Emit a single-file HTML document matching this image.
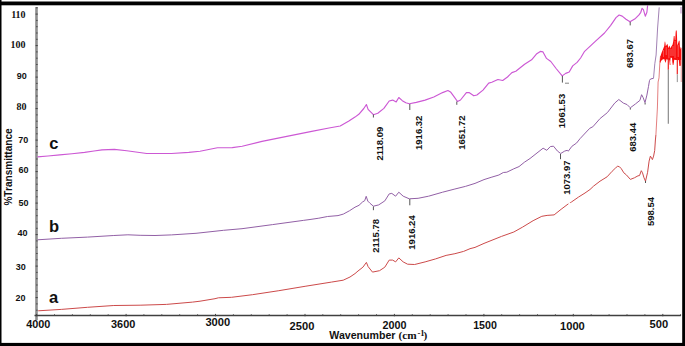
<!DOCTYPE html>
<html><head><meta charset="utf-8"><style>
html,body{margin:0;padding:0;background:#fff;}
body{width:685px;height:346px;overflow:hidden;}
svg{display:block;}
text{font-family:"Liberation Sans",sans-serif;fill:#111;}
</style></head><body>
<svg width="685" height="346" viewBox="0 0 685 346">
<rect width="685" height="346" fill="#fff"/>
<!-- axes -->
<line x1="36.5" y1="7" x2="36.5" y2="320" stroke="#8e8e8e" stroke-width="2.6"/>
<line x1="34.5" y1="315.5" x2="680.8" y2="315.5" stroke="#404040" stroke-width="1.3"/>
<g stroke="#444" stroke-width="1"><line x1="36.2" y1="310.2" x2="37.6" y2="310.2"/><line x1="36.2" y1="303.9" x2="37.6" y2="303.9"/><line x1="35.6" y1="297.6" x2="37.8" y2="297.6"/><line x1="36.2" y1="291.3" x2="37.6" y2="291.3"/><line x1="36.2" y1="285.0" x2="37.6" y2="285.0"/><line x1="36.2" y1="278.7" x2="37.6" y2="278.7"/><line x1="36.2" y1="272.4" x2="37.6" y2="272.4"/><line x1="35.6" y1="266.1" x2="37.8" y2="266.1"/><line x1="36.2" y1="259.8" x2="37.6" y2="259.8"/><line x1="36.2" y1="253.5" x2="37.6" y2="253.5"/><line x1="36.2" y1="247.2" x2="37.6" y2="247.2"/><line x1="36.2" y1="240.9" x2="37.6" y2="240.9"/><line x1="35.6" y1="234.6" x2="37.8" y2="234.6"/><line x1="36.2" y1="228.3" x2="37.6" y2="228.3"/><line x1="36.2" y1="222.0" x2="37.6" y2="222.0"/><line x1="36.2" y1="215.7" x2="37.6" y2="215.7"/><line x1="36.2" y1="209.4" x2="37.6" y2="209.4"/><line x1="35.6" y1="203.1" x2="37.8" y2="203.1"/><line x1="36.2" y1="196.8" x2="37.6" y2="196.8"/><line x1="36.2" y1="190.5" x2="37.6" y2="190.5"/><line x1="36.2" y1="184.2" x2="37.6" y2="184.2"/><line x1="36.2" y1="177.9" x2="37.6" y2="177.9"/><line x1="35.6" y1="171.6" x2="37.8" y2="171.6"/><line x1="36.2" y1="165.3" x2="37.6" y2="165.3"/><line x1="36.2" y1="159.0" x2="37.6" y2="159.0"/><line x1="36.2" y1="152.7" x2="37.6" y2="152.7"/><line x1="36.2" y1="146.4" x2="37.6" y2="146.4"/><line x1="35.6" y1="140.1" x2="37.8" y2="140.1"/><line x1="36.2" y1="133.8" x2="37.6" y2="133.8"/><line x1="36.2" y1="127.5" x2="37.6" y2="127.5"/><line x1="36.2" y1="121.2" x2="37.6" y2="121.2"/><line x1="36.2" y1="114.9" x2="37.6" y2="114.9"/><line x1="35.6" y1="108.6" x2="37.8" y2="108.6"/><line x1="36.2" y1="102.3" x2="37.6" y2="102.3"/><line x1="36.2" y1="96.0" x2="37.6" y2="96.0"/><line x1="36.2" y1="89.7" x2="37.6" y2="89.7"/><line x1="36.2" y1="83.4" x2="37.6" y2="83.4"/><line x1="35.6" y1="77.1" x2="37.8" y2="77.1"/><line x1="36.2" y1="70.8" x2="37.6" y2="70.8"/><line x1="36.2" y1="64.5" x2="37.6" y2="64.5"/><line x1="36.2" y1="58.2" x2="37.6" y2="58.2"/><line x1="36.2" y1="51.9" x2="37.6" y2="51.9"/><line x1="35.6" y1="45.6" x2="37.8" y2="45.6"/><line x1="36.2" y1="39.3" x2="37.6" y2="39.3"/><line x1="36.2" y1="33.0" x2="37.6" y2="33.0"/><line x1="36.2" y1="26.7" x2="37.6" y2="26.7"/><line x1="36.2" y1="20.4" x2="37.6" y2="20.4"/><line x1="35.6" y1="14.1" x2="37.8" y2="14.1"/><line x1="36.2" y1="7.8" x2="37.6" y2="7.8"/></g>
<g stroke="#444" stroke-width="1"><line x1="36.6" y1="313.9" x2="36.6" y2="316.3"/><line x1="54.5" y1="314.3" x2="54.5" y2="315.9"/><line x1="72.4" y1="314.3" x2="72.4" y2="315.9"/><line x1="90.3" y1="314.3" x2="90.3" y2="315.9"/><line x1="108.2" y1="314.3" x2="108.2" y2="315.9"/><line x1="126.1" y1="313.9" x2="126.1" y2="316.3"/><line x1="143.9" y1="314.3" x2="143.9" y2="315.9"/><line x1="161.8" y1="314.3" x2="161.8" y2="315.9"/><line x1="179.7" y1="314.3" x2="179.7" y2="315.9"/><line x1="197.6" y1="314.3" x2="197.6" y2="315.9"/><line x1="215.5" y1="313.9" x2="215.5" y2="316.3"/><line x1="233.4" y1="314.3" x2="233.4" y2="315.9"/><line x1="251.3" y1="314.3" x2="251.3" y2="315.9"/><line x1="269.2" y1="314.3" x2="269.2" y2="315.9"/><line x1="287.1" y1="314.3" x2="287.1" y2="315.9"/><line x1="305.0" y1="313.9" x2="305.0" y2="316.3"/><line x1="322.8" y1="314.3" x2="322.8" y2="315.9"/><line x1="340.7" y1="314.3" x2="340.7" y2="315.9"/><line x1="358.6" y1="314.3" x2="358.6" y2="315.9"/><line x1="376.5" y1="314.3" x2="376.5" y2="315.9"/><line x1="394.4" y1="313.9" x2="394.4" y2="316.3"/><line x1="412.3" y1="314.3" x2="412.3" y2="315.9"/><line x1="430.2" y1="314.3" x2="430.2" y2="315.9"/><line x1="448.1" y1="314.3" x2="448.1" y2="315.9"/><line x1="466.0" y1="314.3" x2="466.0" y2="315.9"/><line x1="483.9" y1="313.9" x2="483.9" y2="316.3"/><line x1="501.7" y1="314.3" x2="501.7" y2="315.9"/><line x1="519.6" y1="314.3" x2="519.6" y2="315.9"/><line x1="537.5" y1="314.3" x2="537.5" y2="315.9"/><line x1="555.4" y1="314.3" x2="555.4" y2="315.9"/><line x1="573.3" y1="313.9" x2="573.3" y2="316.3"/><line x1="591.2" y1="314.3" x2="591.2" y2="315.9"/><line x1="609.1" y1="314.3" x2="609.1" y2="315.9"/><line x1="627.0" y1="314.3" x2="627.0" y2="315.9"/><line x1="644.9" y1="314.3" x2="644.9" y2="315.9"/><line x1="662.8" y1="313.9" x2="662.8" y2="316.3"/><line x1="680.6" y1="314.3" x2="680.6" y2="315.9"/></g>
<!-- curves -->
<polyline points="37.5,156.9 48.0,156.0 59.8,154.9 72.0,153.8 84.6,152.4 94.0,151.0 102.0,149.9 114.4,149.4 126.8,150.7 146.7,153.5 171.5,153.5 188.8,152.4 200.0,151.3 217.4,147.8 232.3,147.6 242.2,146.3 262.0,141.4 286.8,136.4 311.7,131.4 329.0,128.0 340.2,126.0 348.9,121.0 355.0,117.1 358.8,114.3 363.8,108.5 366.4,104.5 368.1,109.4 373.4,114.7 377.8,113.3 383.9,108.4 389.2,101.0 392.7,100.1 396.2,101.9 398.8,97.5 402.3,100.7 405.8,102.8 409.3,103.7 416.3,102.4 425.1,100.1 433.8,97.0 442.6,92.6 447.9,90.5 450.5,91.9 454.0,96.6 457.5,101.5 460.5,100.0 466.4,92.6 469.0,92.6 473.8,95.8 476.9,95.0 483.0,90.1 488.7,83.1 491.8,82.3 497.9,79.5 502.7,80.5 507.5,77.0 511.9,72.6 515.8,71.2 524.6,64.2 531.6,59.8 536.8,53.7 540.3,51.4 543.0,51.9 546.5,58.4 550.8,61.5 556.1,68.5 562.2,75.9 565.7,73.4 569.2,72.0 572.7,65.9 577.1,62.4 580.6,58.0 584.6,51.3 595.3,41.4 604.5,33.0 610.7,25.3 616.0,17.6 619.1,15.0 622.2,16.1 626.0,19.2 630.0,21.8 635.5,18.4 639.0,14.9 640.8,12.3 642.1,8.3 643.4,9.6 645.3,16.2 646.9,12.3 647.6,5.5" fill="none" stroke="#cc58d4" stroke-width="1.15" stroke-linejoin="round"/>
<polyline points="37.5,239.8 61.3,238.3 87.6,237.1 113.8,235.5 127.9,234.8 140.1,235.3 155.0,235.5 171.5,234.9 196.0,233.3 223.6,230.3 242.0,228.7 272.6,224.6 303.3,220.4 310.0,219.5 318.8,218.2 327.5,216.5 338.0,215.6 343.3,214.1 349.4,210.8 355.0,207.2 359.0,205.3 362.5,202.0 364.7,200.7 366.2,196.3 367.8,201.1 370.0,203.3 373.4,206.2 378.7,204.9 384.8,200.9 389.2,193.9 391.8,193.4 395.6,196.2 398.8,192.2 403.2,196.2 409.3,198.8 418.1,198.3 428.6,196.2 442.6,192.2 454.9,189.0 465.4,186.4 475.0,183.4 484.0,179.6 491.9,177.1 498.9,175.0 503.3,172.5 506.8,172.2 513.8,168.8 519.0,166.6 524.3,162.3 530.0,158.5 543.1,148.2 546.8,150.3 550.3,146.6 553.5,146.2 557.5,151.1 560.7,153.5 564.7,151.1 567.2,150.3 568.3,151.2 571.9,146.3 576.5,143.1 580.0,138.7 587.2,131.0 589.9,128.2 592.8,126.8 600.1,118.5 607.4,112.6 614.7,103.1 618.8,99.5 623.4,103.1 627.1,104.6 630.3,107.8 635.5,103.9 639.9,100.4 641.6,94.7 643.0,97.3 645.0,102.6 646.9,95.1 648.5,86.4 649.5,80.5 650.5,79.0 653.5,78.3" fill="none" stroke="#9260a6" stroke-width="1.0" stroke-linejoin="round"/>
<polyline points="653.5,78.3 654.8,63.8 656.1,55.0 657.6,28.0 659.2,7.4" fill="none" stroke="#a282b4" stroke-width="1.0"/>
<polyline points="38.2,310.8 61.3,309.4 87.5,307.3 113.8,305.5 140.1,305.2 166.4,304.4 192.6,302.1 200.0,301.2 215.0,298.7 218.4,297.8 231.5,297.3 252.5,294.7 278.8,290.7 305.1,286.3 331.4,282.1 343.2,280.2 350.0,277.0 355.0,273.6 358.0,271.0 362.9,267.2 366.4,262.4 368.1,266.6 372.5,272.1 379.5,270.7 384.8,267.2 389.2,260.1 392.7,260.1 395.6,261.9 398.8,257.9 403.2,261.9 407.6,264.2 414.6,264.5 425.1,261.9 435.6,258.9 446.1,255.4 454.9,253.7 463.6,251.4 470.0,248.7 475.0,247.4 484.0,243.4 501.5,236.4 513.8,232.0 522.6,227.1 533.1,220.7 541.8,216.3 547.1,215.4 554.1,214.9 561.1,209.3 568.1,204.0 571.6,201.9 578.6,197.0 585.0,193.0 590.0,189.5 593.6,186.1 600.0,181.2 607.1,176.8 612.1,171.3 615.5,168.0 617.7,166.2 619.5,166.8 621.3,168.7 623.8,172.8 626.3,174.8 630.4,179.4 634.4,177.8 638.0,175.8 639.5,175.6 641.3,170.7 642.5,172.8 644.0,177.8 645.5,181.2 647.6,172.3 649.1,161.1 650.4,156.1 651.6,158.1 652.4,159.6 653.6,156.1 654.7,150.5 655.4,140.0 655.9,135.0" fill="none" stroke="#cc4a4a" stroke-width="1.0" stroke-linejoin="round"/>
<line x1="568.6" y1="204.6" x2="570.1" y2="202.5" stroke="#fff" stroke-width="1.6"/>
<polyline points="655.9,135.0 657.4,108.0 658.1,82.0 659.0,77.9 659.9,62.1 660.5,56.0" fill="none" stroke="#e07070" stroke-width="0.9"/>
<polygon points="659.8,62.0 660.5,56.0 661.5,53.0 662.1,51.5 663.5,48.0 664.2,46.2 664.7,42.0 665.0,41.3 665.4,43.0 665.8,46.2 666.6,45.0 667.4,43.7 668.0,46.0 668.5,48.2 669.0,46.5 669.5,45.4 670.0,47.0 670.5,48.6 671.0,47.0 671.5,46.2 672.6,44.5 673.3,41.0 673.8,36.0 674.5,36.0 674.9,40.0 675.3,40.0 675.6,33.0 675.9,30.5 676.7,30.5 677.0,36.0 677.3,45.4 677.9,44.0 678.5,42.1 679.0,40.5 679.6,41.0 680.1,49.4 680.7,47.0 681.4,48.0 681.4,64.0 680.6,66.1 679.4,66.1 678.8,60.0 677.9,60.0 677.6,60.0 676.2,60.0 674.2,59.8 674.0,62.0 673.4,64.9 672.8,64.9 672.3,62.0 672.0,58.0 670.7,57.4 670.2,62.0 670.5,64.9 669.8,64.9 669.2,60.0 667.2,59.5 666.6,59.0 665.5,63.0 664.2,59.0 662.5,59.5 661.0,61.0 660.3,63.0" fill="#f80c0c"/>
<g stroke="#fff" stroke-width="0.6" opacity="0.55">
<line x1="663.3" y1="50" x2="663.3" y2="57"/><line x1="666.2" y1="47" x2="666.2" y2="55"/><line x1="668.9" y1="49" x2="668.9" y2="58"/><line x1="671" y1="49" x2="671" y2="56"/><line x1="673" y1="46" x2="673" y2="56"/><line x1="675" y1="41" x2="675" y2="58"/><line x1="678.2" y1="45" x2="678.2" y2="57"/></g>
<line x1="668.3" y1="58" x2="668.3" y2="69.8" stroke="#ee2020" stroke-width="1.2"/>
<line x1="668.3" y1="69.8" x2="668.3" y2="123.8" stroke="#808080" stroke-width="1.1"/>
<line x1="677.3" y1="58" x2="677.3" y2="74.3" stroke="#ee2020" stroke-width="1.2"/>
<line x1="677.3" y1="74.3" x2="677.3" y2="82.1" stroke="#909090" stroke-width="1"/>
<line x1="565" y1="83.2" x2="569" y2="83.2" stroke="#777" stroke-width="0.9"/>
<line x1="681" y1="7" x2="681" y2="13.6" stroke="#c8a0d0" stroke-width="1.2"/>
<line x1="681.3" y1="60" x2="681.3" y2="82" stroke="#f0b0b0" stroke-width="1.2"/>
<!-- peak ticks -->
<g stroke="#555" stroke-width="1"><line x1="373.4" y1="114.5" x2="373.4" y2="117.5"/><line x1="409.8" y1="104" x2="409.8" y2="110"/><line x1="456.8" y1="101.5" x2="456.8" y2="104.8"/><line x1="562.4" y1="76" x2="562.4" y2="82.6"/><line x1="630.2" y1="22" x2="630.2" y2="25.4"/><line x1="373.4" y1="206.5" x2="373.4" y2="210.2"/><line x1="409.8" y1="199" x2="409.8" y2="205.3"/><line x1="560.5" y1="154" x2="560.5" y2="159.2"/><line x1="630.3" y1="108" x2="630.3" y2="109.6"/><line x1="645.1" y1="102.8" x2="645.1" y2="104.5"/><line x1="645.5" y1="181" x2="645.5" y2="183"/></g>
<!-- peak labels -->
<g font-size="9.5" font-weight="bold"><text transform="translate(382.5,143.6) rotate(-90)" text-anchor="middle">2118.09</text><text transform="translate(422.3,132.8) rotate(-90)" text-anchor="middle">1916.32</text><text transform="translate(465.1,132.7) rotate(-90)" text-anchor="middle">1651.72</text><text transform="translate(565.0,111.0) rotate(-90)" text-anchor="middle">1061.53</text><text transform="translate(633.1,53.5) rotate(-90)" text-anchor="middle">683.67</text><text transform="translate(379.3,235.8) rotate(-90)" text-anchor="middle">2115.78</text><text transform="translate(414.5,232.5) rotate(-90)" text-anchor="middle">1916.24</text><text transform="translate(570.1,177.6) rotate(-90)" text-anchor="middle">1073.97</text><text transform="translate(635.9,137.3) rotate(-90)" text-anchor="middle">683.44</text><text transform="translate(654.2,211.5) rotate(-90)" text-anchor="middle">598.54</text></g>
<!-- y labels -->
<text x="25.6" y="17.9" text-anchor="end" style="font-family:&quot;Liberation Serif&quot;,serif" font-weight="bold" font-size="10">110</text><text x="25.6" y="47.6" text-anchor="end" style="font-family:&quot;Liberation Serif&quot;,serif" font-weight="bold" font-size="10">100</text><text x="26.8" y="78.7" text-anchor="end" font-size="9" font-weight="600">90</text><text x="26.4" y="110" text-anchor="end" style="font-family:&quot;Liberation Serif&quot;,serif" font-weight="bold" font-size="10">80</text><text x="28.3" y="143.1" text-anchor="end" font-size="9" font-weight="600">70</text><text x="28.6" y="173.1" text-anchor="end" font-size="9" font-weight="600">60</text><text x="28.6" y="205.9" text-anchor="end" font-size="9" font-weight="600">50</text><text x="27.4" y="236.4" text-anchor="end" font-size="9" font-weight="600">40</text><text x="25.7" y="269.9" text-anchor="end" font-size="9" font-weight="600">30</text><text x="25.6" y="301.3" text-anchor="end" font-size="9" font-weight="600">20</text>
<!-- x labels -->
<g font-size="10" font-weight="bold"><text x="26.2" y="327.5" textLength="24.2" lengthAdjust="spacingAndGlyphs">4000</text><text x="111.0" y="327.7" textLength="24.3" lengthAdjust="spacingAndGlyphs">3600</text><text x="205.4" y="326" textLength="24.8" lengthAdjust="spacingAndGlyphs">3000</text><text x="289.6" y="329.5" textLength="24.8" lengthAdjust="spacingAndGlyphs">2500</text><text x="382.5" y="329" textLength="24.0" lengthAdjust="spacingAndGlyphs">2000</text><text x="473.2" y="329" textLength="23.7" lengthAdjust="spacingAndGlyphs">1500</text><text x="560.0" y="329.7" textLength="24.8" lengthAdjust="spacingAndGlyphs">1000</text><text x="649.5" y="328.3" textLength="18.6" lengthAdjust="spacingAndGlyphs">500</text></g>
<text x="329.3" y="338.5" font-size="10" font-weight="bold" textLength="66.2" lengthAdjust="spacingAndGlyphs">Wavenumber</text>
<text x="398.6" y="338.9" style="font-family:&quot;Liberation Serif&quot;,serif" font-size="11.3" font-weight="bold">(cm</text>
<text x="417.5" y="335.6" style="font-family:&quot;Liberation Serif&quot;,serif" font-size="8.6" font-weight="bold">-1</text>
<text x="423.6" y="338.9" style="font-family:&quot;Liberation Serif&quot;,serif" font-size="11.3" font-weight="bold">)</text>
<text transform="translate(12.3,205.6) rotate(-90)" font-size="10.8" font-weight="bold" textLength="77.3" lengthAdjust="spacingAndGlyphs">%Transmittance</text>
<!-- series letters -->
<g font-size="16.5" font-weight="bold">
<text x="49.2" y="148.6">c</text>
<text x="49.0" y="231.6">b</text>
<text x="49.0" y="302.7">a</text>
</g>
<!-- frame -->
<rect x="0" y="1.5" width="685" height="3.8" fill="#000"/>
<rect x="0" y="0" width="1.5" height="346" fill="#000"/>
<rect x="682.2" y="0" width="2.8" height="346" fill="#000"/>
<rect x="0" y="342.9" width="685" height="3.1" fill="#000"/>
</svg>
</body></html>
